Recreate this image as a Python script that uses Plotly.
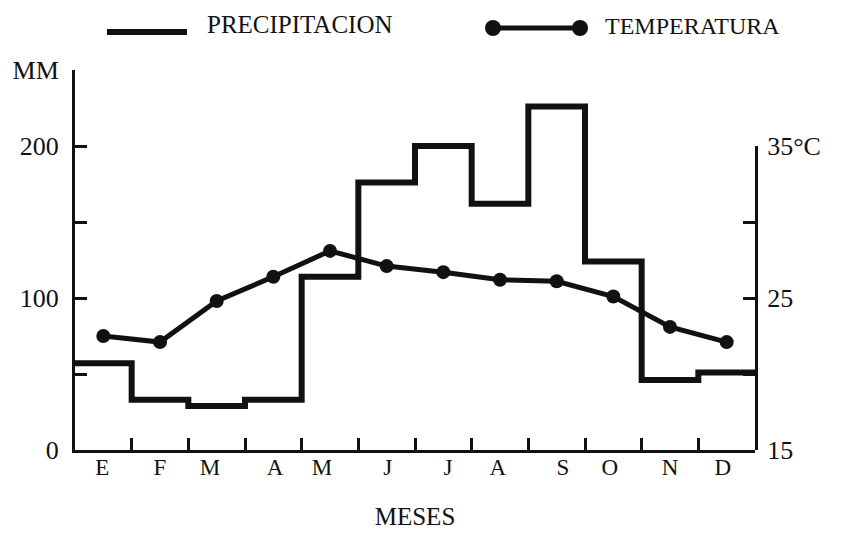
import plotly.graph_objects as go

# ---- data ----
months = ["E", "F", "M", "A", "M", "J", "J", "A", "S", "O", "N", "D"]
precip_mm = [57, 33, 29, 33, 114, 176, 200, 162, 226, 124, 46, 51]
temp_c = [22.5, 22.1, 24.8, 26.4, 28.1, 27.1, 26.7, 26.2, 26.1, 25.1, 23.1, 22.1]
month_label_pos = [0.48, 1.5, 2.38, 3.53, 4.36, 5.52, 6.58, 7.46, 8.61, 9.44, 10.5, 11.43]
mm_ticks = [0, 50, 100, 150, 200, 250]
mm_ticktext = ["0", "", "100", "", "200", "MM"]
c_ticks = [15, 20, 25, 30, 35]
c_ticktext = ["15", "", "25", "", "35°C"]

FONT = "Liberation Serif"
INK = "#111111"

# step line (each month occupies one unit on the x axis)
step_x = list(range(len(months))) + [len(months)]
step_y = precip_mm + [precip_mm[-1]]
temp_x = [i + 0.5 for i in range(len(months))]

fig = go.Figure()
fig.add_trace(go.Scatter(
    x=step_x, y=step_y, mode="lines", line=dict(shape="hv", color=INK, width=6),
    name="PRECIPITACION", xaxis="x", yaxis="y", showlegend=False, cliponaxis=False))
fig.add_trace(go.Scatter(
    x=temp_x, y=temp_c, mode="lines+markers", line=dict(color=INK, width=5),
    marker=dict(size=14, color=INK), name="TEMPERATURA", xaxis="x", yaxis="y2",
    showlegend=False))

# ---- hand-drawn style legend above the plot (pixel -> paper helpers) ----
L, R, T, B = 75, 755, 70, 450
def px(xp):
    return (xp - L) / (R - L)
def py(yp):
    return (B - yp) / (B - T)

shapes = [
    dict(type="line", xref="paper", yref="paper", x0=px(107), x1=px(187), y0=py(32), y1=py(32),
         line=dict(color=INK, width=6)),
    dict(type="line", xref="paper", yref="paper", x0=px(493), x1=px(580), y0=py(28), y1=py(28),
         line=dict(color=INK, width=5)),
]
for cx in (493, 580):
    shapes.append(dict(type="circle", xref="paper", yref="paper", xsizemode="pixel", ysizemode="pixel",
                       xanchor=px(cx), yanchor=py(28), x0=-8, x1=8, y0=-8, y1=8,
                       fillcolor=INK, line=dict(color=INK, width=0)))

annotations = [
    dict(text="PRECIPITACION", xref="paper", yref="paper", x=px(205), y=py(24), xanchor="left",
         yanchor="middle", showarrow=False, font=dict(family=FONT, size=25, color=INK)),
    dict(text="TEMPERATURA", xref="paper", yref="paper", x=px(603), y=py(26), xanchor="left",
         yanchor="middle", showarrow=False, font=dict(family=FONT, size=24, color=INK)),
]

fig.update_layout(
    width=845, height=534, autosize=False,
    margin=dict(l=L, r=845 - R, t=T, b=534 - B),
    paper_bgcolor="white", plot_bgcolor="rgba(0,0,0,0)",
    font=dict(family=FONT, color=INK),
    shapes=shapes, annotations=annotations,
    xaxis=dict(
        range=[0, 12], showgrid=False, zeroline=False, showline=True, linecolor=INK, linewidth=3,
        tickmode="array", tickvals=month_label_pos, ticktext=months, ticks="",
        tickfont=dict(family=FONT, size=23, color=INK), ticklabelstandoff=-6, automargin=False,
        minor=dict(tickmode="array", tickvals=list(range(1, 12)), ticks="inside", ticklen=12,
                   tickwidth=3, tickcolor=INK, showgrid=False),
        title=dict(text="MESES", font=dict(family=FONT, size=25, color=INK), standoff=29),
    ),
    yaxis=dict(
        range=[0, 250], showgrid=False, zeroline=False, showline=True, linecolor=INK, linewidth=3,
        tickmode="array", tickvals=mm_ticks, ticktext=mm_ticktext, ticks="inside", ticklen=12,
        tickwidth=3, tickcolor=INK, tickfont=dict(family=FONT, size=26, color=INK),
        ticklabelstandoff=8, automargin=False,
    ),
    yaxis2=dict(
        domain=[0, 0.8], anchor="x", side="right", range=[15, 35], showgrid=False, zeroline=False,
        showline=True, linecolor=INK, linewidth=3, tickmode="array", tickvals=c_ticks,
        ticktext=c_ticktext, ticks="inside", ticklen=12, tickwidth=3, tickcolor=INK,
        tickfont=dict(family=FONT, size=26, color=INK), ticklabelstandoff=4, automargin=False,
    ),
)

fig.write_html("out.html")
